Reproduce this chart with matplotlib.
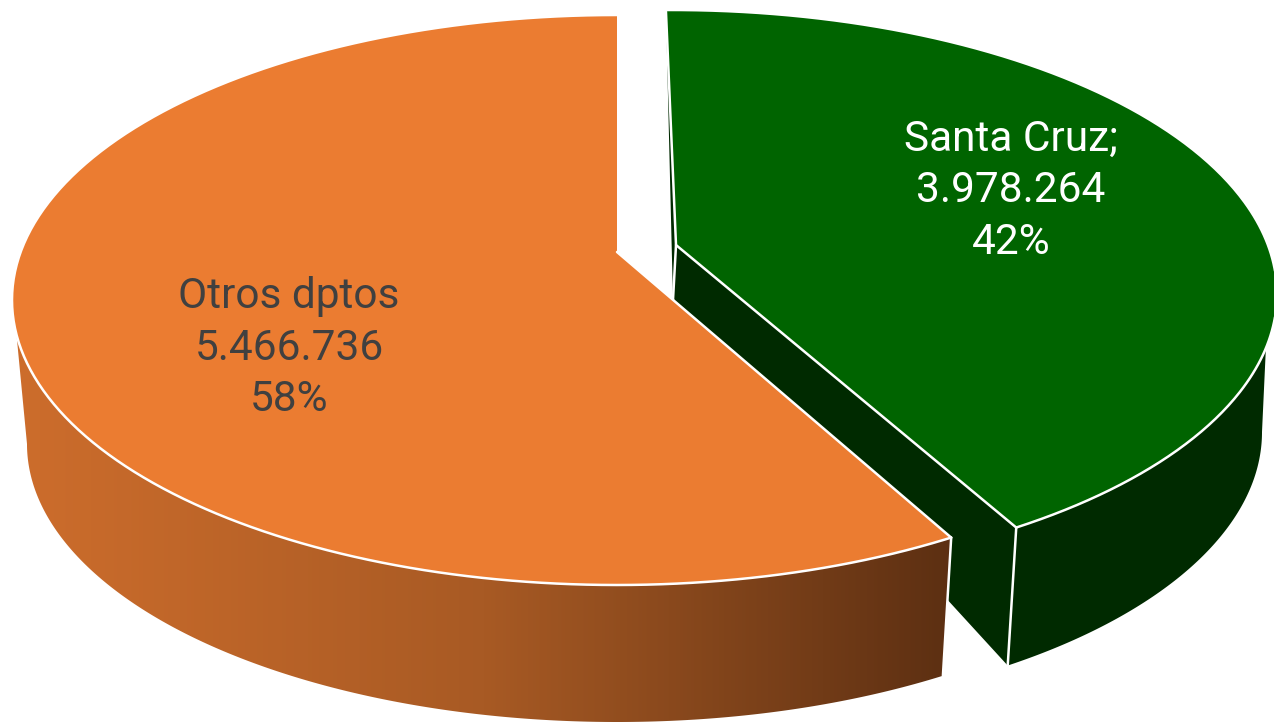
import matplotlib
matplotlib.use('Agg')
import matplotlib.pyplot as plt
import numpy as np
from matplotlib.colors import LinearSegmentedColormap
from matplotlib.patches import Polygon

labels = ['Otros dptos', 'Santa Cruz;']
values = [5466736, 3978264]
percents = ['58%', '42%']
value_labels = ['5.466.736', '3.978.264']

# geometria de la vista (pixeles de la imagen)
top_orange = dict(cx=617, cy=300, a=605, b=285, ax=617, ay=252)
bot_orange = dict(cx=617, cy=444, a=590, b=278)
top_green = dict(cx=672, cy=294, a=605, b=284, ax=676, ay=245)
bot_green = dict(cx=672, cy=432, a=590, b=284)
green_apex_bottom = (673, 300)
green_lean = 0.7
orange_shift = 0.5
green_shift = 1.4

shares = np.array(values) / sum(values)
split = 90 + 360 * shares[0]


def rim_phi(top, t):
    # el rayo sale del vertice (no del centro) por la perspectiva
    t = np.radians(t)
    dx, dy = np.cos(t), np.sin(t)
    off = (top['cy'] - top['ay']) / top['b']
    # interseccion con la elipse unidad
    bb = dy * off
    s = -bb + np.sqrt(bb ** 2 + 1 - off ** 2)
    return np.arctan2(dy * s + off, dx * s)


def ell(e, phi):
    return np.column_stack([e['cx'] + e['a'] * np.cos(phi), e['cy'] - e['b'] * np.sin(phi)])


def arc(e, start, end, n=300):
    return ell(e, np.linspace(start, end, n))


fig = plt.figure(figsize=(12.74, 7.23), dpi=100)
ax = fig.add_axes([0, 0, 1, 1])
ax.axis('off')

edge = dict(color='white', lw=1.8, solid_capstyle='round')

# --- Santa Cruz ---
g_start = rim_phi(top_green, 90 + green_lean)
g_end = rim_phi(top_green, split + green_shift)
g_corner_top = ell(top_green, np.array([g_end]))[0]
g_corner_bot = ell(bot_green, np.array([g_end]))[0]
g_apex = (top_green['ax'], top_green['ay'])
g_rim = arc(top_green, g_start, g_end)
dark_green = '#002a00'

ax.add_patch(Polygon([g_rim[0], g_apex, green_apex_bottom], fc=dark_green, ec='none', zorder=1))
ax.add_patch(Polygon([g_apex, g_corner_top, g_corner_bot, green_apex_bottom], fc=dark_green, ec='none', zorder=1))
wall_top = arc(top_green, g_end, np.radians(-11), 200)
wall_bot = arc(bot_green, 0, g_end, 200)
ax.add_patch(Polygon(np.vstack([wall_top, wall_bot]), fc=dark_green, ec='none', zorder=1))
ax.add_patch(Polygon(np.vstack([g_rim, [g_apex]]), fc='#006400', ec='none', zorder=2))
ax.plot(*np.vstack([g_rim[0], g_apex, g_corner_top]).T, zorder=3, **edge)
ax.plot(*g_rim.T, zorder=3, **edge)
ax.plot(*np.array([g_corner_top, g_corner_bot]).T, zorder=3, **edge)
ax.plot(*np.array([g_apex, green_apex_bottom]).T, zorder=3, **edge)

# --- Otros dptos ---
o_start = rim_phi(top_orange, 90)
o_end = rim_phi(top_orange, split + orange_shift)
if o_end < o_start:
    o_end += 2 * np.pi
o_rim = arc(top_orange, o_start, o_end)
o_apex = (top_orange['ax'], top_orange['ay'])
o_corner_bot = ell(bot_orange, np.array([o_end]))[0]

wall = np.vstack([arc(top_orange, np.radians(187), o_end, 300),
                  arc(bot_orange, o_end, np.pi, 300)])
wall_patch = Polygon(wall, fc='none', ec='none', zorder=4)
ax.add_patch(wall_patch)
cmap = LinearSegmentedColormap.from_list('pared', ['#cd6d2c', '#a85a24', '#5c2f12'])
im = ax.imshow(np.linspace(0, 1, 512).reshape(1, -1), cmap=cmap, aspect='auto',
               extent=(14, 955, 723, 300), zorder=4)
im.set_clip_path(wall_patch)
ax.add_patch(Polygon(np.vstack([o_rim, [o_apex]]), fc='#eb7c31', ec='none', zorder=5))
ax.plot(*np.vstack([o_apex, o_rim[-1]]).T, zorder=6, **edge)
ax.plot(*o_rim.T, zorder=6, **edge)
ax.plot(*np.array([o_rim[-1], o_corner_bot]).T, zorder=6, **edge)

ax.set_xlim(0, 1274)
ax.set_ylim(723, 0)

font = 'Roboto'
ax.text(289, 348, f'{labels[0]}\n{value_labels[0]}\n{percents[0]}', ha='center', va='center',
        color='#404040', fontsize=30.5, family=font, linespacing=1.33, zorder=8)
ax.text(1011, 191, f'{labels[1]}\n{value_labels[1]}\n{percents[1]}', ha='center', va='center',
        color='white', fontsize=30.5, family=font, linespacing=1.33, zorder=8)

fig.savefig('out.png', dpi=100)
